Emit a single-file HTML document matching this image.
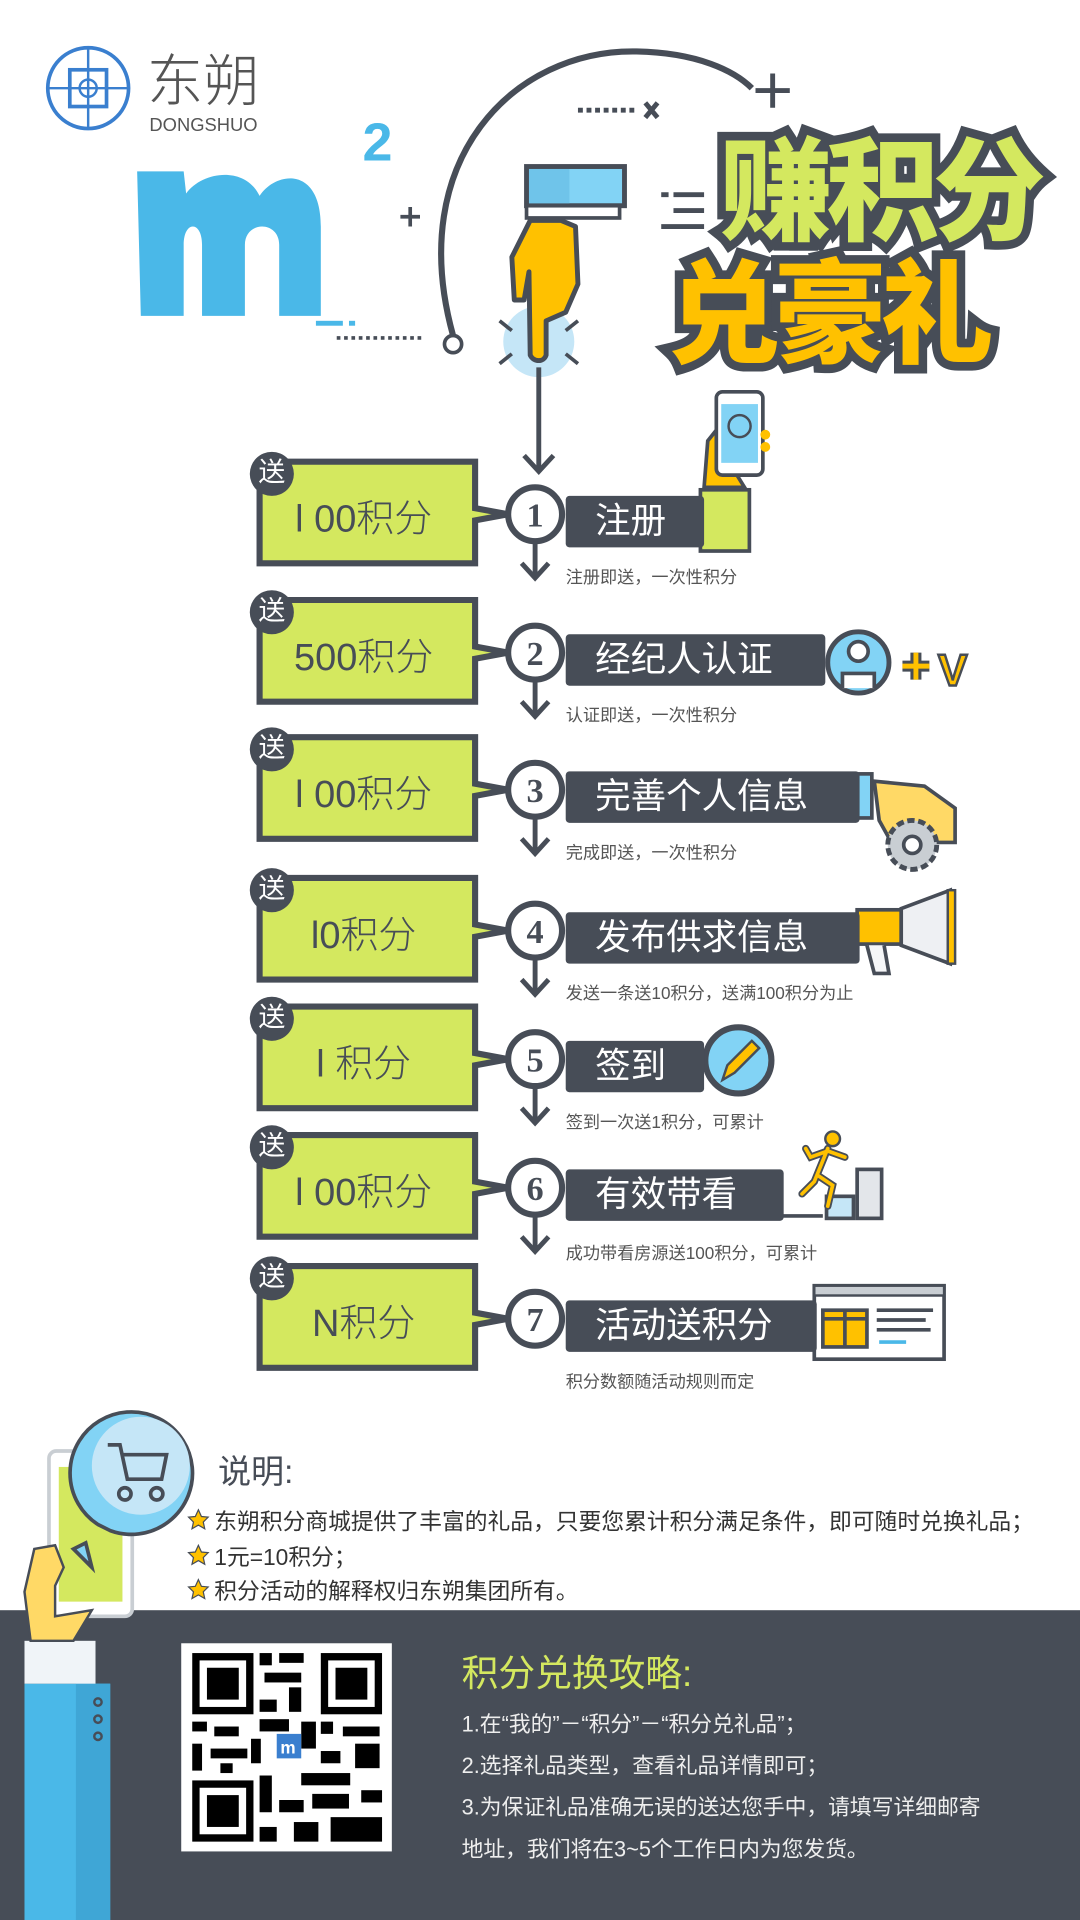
<!DOCTYPE html>
<html><head><meta charset="utf-8">
<style>
html,body{margin:0;padding:0;background:#fff;}
body{width:1080px;height:1920px;overflow:hidden;position:relative;font-family:"Liberation Sans","Noto Sans CJK SC",sans-serif;}
#w{position:absolute;left:0;top:0;width:882px;height:1568px;transform:scale(1.22449);transform-origin:0 0;}
.a{position:absolute;white-space:nowrap;}
.t1{font-family:"Noto Sans CJK SC",sans-serif;font-weight:900;font-size:92px;line-height:1;color:#d4e85f;-webkit-text-stroke:14px #474d57;paint-order:stroke fill;letter-spacing:-5px;}
.t2{color:#ffc100;}
.lab{position:absolute;background:#474d57;color:#fff;font-size:29px;height:42px;line-height:42px;padding-left:24px;box-sizing:border-box;border-radius:3px;font-family:"Liberation Sans","Noto Sans CJK SC",sans-serif;}
.sub{position:absolute;font-size:14px;color:#555;white-space:nowrap;}
.pts{position:absolute;font-size:31px;color:#474d57;font-weight:300;width:170px;text-align:center;}
.song{position:absolute;width:36px;height:36px;border-radius:50%;background:#474d57;color:#fff;font-size:22px;line-height:34px;text-align:center;}
.bl{position:absolute;font-size:18.6px;color:#333;white-space:nowrap;}
.gl{position:absolute;font-size:17.8px;color:#eee;white-space:nowrap;}
</style></head><body><div id="w">
<svg width="882" height="1568" style="position:absolute;left:0;top:0">
<circle cx="72" cy="72" r="33" fill="none" stroke="#3a7fcf" stroke-width="3"/>
<rect x="57" y="57" width="30" height="30" fill="none" stroke="#3a7fcf" stroke-width="3"/>
<circle cx="72" cy="72" r="7" fill="none" stroke="#3a7fcf" stroke-width="2"/>
<line x1="39" y1="72" x2="105" y2="72" stroke="#3a7fcf" stroke-width="2"/>
<line x1="72" y1="39" x2="72" y2="105" stroke="#3a7fcf" stroke-width="2"/>
<path d="M115 258 L112 140 L150 140 L152 158 C165 140 200 135 212 160 C225 140 262 135 262 185 L262 258 L228 258 L228 200 C228 180 200 180 200 200 L200 258 L165 258 L165 200 C165 180 150 180 150 200 L150 258 Z" fill="#4ab8e8"/>
<rect x="258" y="262" width="22" height="4" fill="#4ab8e8"/><rect x="285" y="262" width="5" height="4" fill="#4ab8e8"/>
<text x="296" y="131" font-family="Liberation Sans" font-weight="bold" font-size="44" fill="#4ab8e8">2</text>
<path d="M327 177h16M335 169v16" stroke="#474d57" stroke-width="3"/>
<line x1="275" y1="276" x2="345" y2="276" stroke="#474d57" stroke-width="3" stroke-dasharray="3 3"/>
<circle cx="370" cy="281" r="7" fill="none" stroke="#474d57" stroke-width="3"/>
<path d="M370 274 C 330 130 420 40 520 42 C 570 43 600 58 614 72" fill="none" stroke="#474d57" stroke-width="5"/>
<path d="M617 74h28M631 60v28" stroke="#474d57" stroke-width="4"/>
<line x1="472" y1="90" x2="518" y2="90" stroke="#474d57" stroke-width="4" stroke-dasharray="4 3"/>
<path d="M527 84l10 12M537 84l-10 12" stroke="#474d57" stroke-width="4"/>
<path d="M540 159h6M550 159h25M550 172h25M540 185h35" stroke="#474d57" stroke-width="4"/>
<circle cx="440" cy="279" r="29" fill="#c5e6f7"/>
<path d="M408 262l10 8M472 262l-10 8M408 297l10-8M472 297l-10-8" stroke="#474d57" stroke-width="3"/>
<rect x="430" y="136" width="80" height="32" fill="#82d3f5" stroke="#474d57" stroke-width="4"/>
<rect x="432" y="138" width="33" height="28" fill="#6fc4ea"/>
<rect x="430" y="168" width="76" height="10" fill="#fff" stroke="#474d57" stroke-width="3"/>
<path d="M433 180 L418 210 L420 245 L428 245 L432 222 L433 290 C436 296 444 296 446 290 L446 262 L462 255 L472 232 L470 185 L458 180 Z" fill="#ffc100" stroke="#474d57" stroke-width="4" stroke-linejoin="round"/>
<line x1="440" y1="300" x2="440" y2="385" stroke="#474d57" stroke-width="4"/>
<path d="M428 372l12 13 12-13" fill="none" stroke="#474d57" stroke-width="4"/>
</svg>

<div class="a t1" style="left:588px;top:104px;">赚积分</div>
<div class="a t1 t2" style="left:545px;top:204px;">兑豪礼</div>
<div class="a" style="left:120px;top:40px;font-size:46px;color:#555;font-family:'Noto Sans CJK SC',sans-serif;font-weight:300;line-height:1;">东朔</div>
<div class="a" style="left:122px;top:94px;font-size:15px;color:#555;">DONGSHUO</div>

<svg width="882" height="1568" style="position:absolute;left:0;top:0">
<defs>
<g id="row">
<path d="M212 -43 H388 V-5 L415 0 L388 5 V40 H212 Z" fill="#d4e85f" stroke="#474d57" stroke-width="5"/>
<circle cx="437" cy="0" r="22" fill="#fff" stroke="#474d57" stroke-width="5"/>
<line x1="437" y1="22" x2="437" y2="52" stroke="#474d57" stroke-width="4"/>
<path d="M426 40l11 12 11-12" fill="none" stroke="#474d57" stroke-width="4"/>
</g>
</defs>
<use href="#row" y="420"/><use href="#row" y="533"/><use href="#row" y="645"/><use href="#row" y="760"/><use href="#row" y="865"/><use href="#row" y="970"/>
<g transform="translate(0,1077)">
<path d="M212 -43 H388 V-5 L415 0 L388 5 V40 H212 Z" fill="#d4e85f" stroke="#474d57" stroke-width="5"/>
<circle cx="437" cy="0" r="22" fill="#fff" stroke="#474d57" stroke-width="5"/>
</g>
<g font-family="Liberation Serif" font-weight="bold" font-size="28" fill="#474d57" text-anchor="middle">
<text x="437" y="430">1</text><text x="437" y="543">2</text><text x="437" y="655">3</text><text x="437" y="770">4</text><text x="437" y="875">5</text><text x="437" y="980">6</text><text x="437" y="1087">7</text>
</g>
<rect x="572" y="400" width="40" height="50" fill="#d4e85f" stroke="#474d57" stroke-width="3"/>
<path d="M575 398 L578 360 L590 345 L600 385 L608 398 Z" fill="#ffc100" stroke="#474d57" stroke-width="3"/>
<rect x="585" y="320" width="38" height="68" rx="5" fill="#fff" stroke="#474d57" stroke-width="3"/>
<rect x="589" y="330" width="30" height="48" fill="#82d3f5"/>
<circle cx="604" cy="348" r="9" fill="none" stroke="#474d57" stroke-width="2"/>
<circle cx="625" cy="355" r="4" fill="#ffc100"/><circle cx="625" cy="365" r="4" fill="#ffc100"/>
<circle cx="701" cy="541" r="25" fill="#82d3f5" stroke="#474d57" stroke-width="4"/>
<circle cx="701" cy="532" r="8" fill="#fff" stroke="#474d57" stroke-width="3"/>
<path d="M688 562 V550 H714 V562" fill="#fff" stroke="#474d57" stroke-width="3"/>
<path d="M737 544h22M748 533v22" stroke="#474d57" stroke-width="9"/><path d="M737 544h22M748 533v22" stroke="#ffc100" stroke-width="4"/>
<text x="766" y="560" font-family="Liberation Sans" font-weight="bold" font-size="36" fill="#ffc100" stroke="#474d57" stroke-width="2">V</text>
<rect x="700" y="632" width="12" height="36" fill="#82d3f5" stroke="#474d57" stroke-width="3"/>
<path d="M714 638 L755 642 L780 660 L780 688 L728 688 L718 670 Z" fill="#ffd966" stroke="#474d57" stroke-width="3"/>
<circle cx="745" cy="690" r="20" fill="#c9ced3" stroke="#474d57" stroke-width="4" stroke-dasharray="6 3"/>
<circle cx="745" cy="690" r="7" fill="#fff" stroke="#474d57" stroke-width="3"/>
<rect x="700" y="743" width="36" height="28" fill="#ffc100" stroke="#474d57" stroke-width="3"/>
<path d="M736 742 L776 727 L776 787 L736 772 Z" fill="#eef0f3" stroke="#474d57" stroke-width="3"/>
<rect x="774" y="727" width="6" height="60" fill="#ffc100" stroke="#474d57" stroke-width="2"/>
<path d="M708 772 L714 795 L726 795 L722 772" fill="#f5f6f8" stroke="#474d57" stroke-width="3"/>
<circle cx="603" cy="866" r="27" fill="#82d3f5" stroke="#474d57" stroke-width="5"/>
<path d="M590 882 L594 870 L614 850 L620 856 L600 876 Z" fill="#ffc100" stroke="#474d57" stroke-width="2"/>
<path d="M632 993 H672" stroke="#474d57" stroke-width="3"/>
<rect x="675" y="977" width="22" height="18" fill="#c5e6f7" stroke="#474d57" stroke-width="3"/>
<rect x="700" y="955" width="20" height="40" fill="#e3e6ea" stroke="#474d57" stroke-width="3"/>
<circle cx="680" cy="930" r="6" fill="#ffc100" stroke="#474d57" stroke-width="2"/>
<path d="M676 938 L665 965 L655 975 M668 960 L680 968 L676 985 M676 940 L690 945 M676 940 L662 945 L658 938" fill="none" stroke="#474d57" stroke-width="6" stroke-linecap="round"/>
<path d="M676 938 L665 965 L655 975 M668 960 L680 968 L676 985 M676 940 L690 945 M676 940 L662 945 L658 938" fill="none" stroke="#ffc100" stroke-width="3" stroke-linecap="round"/>
<rect x="665" y="1050" width="106" height="60" fill="#fff" stroke="#474d57" stroke-width="3"/>
<rect x="665" y="1050" width="106" height="8" fill="#c9ced3" stroke="#474d57" stroke-width="2"/>
<rect x="672" y="1070" width="36" height="30" fill="#ffc100" stroke="#474d57" stroke-width="3"/>
<path d="M690 1070v30M672 1077h36" stroke="#474d57" stroke-width="3"/>
<path d="M716 1070h46M716 1078h40M716 1086h44" stroke="#474d57" stroke-width="3"/>
<path d="M718 1096h22" stroke="#4ab8e8" stroke-width="3"/>
</svg>

<div class="song" style="left:204px;top:369px">送</div><div class="pts" style="left:212px;top:398px">l 00积分</div>
<div class="song" style="left:204px;top:482px">送</div><div class="pts" style="left:212px;top:511px">500积分</div>
<div class="song" style="left:204px;top:594px">送</div><div class="pts" style="left:212px;top:623px">l 00积分</div>
<div class="song" style="left:204px;top:709px">送</div><div class="pts" style="left:212px;top:738px">l0积分</div>
<div class="song" style="left:204px;top:814px">送</div><div class="pts" style="left:212px;top:843px">l 积分</div>
<div class="song" style="left:204px;top:919px">送</div><div class="pts" style="left:212px;top:948px">l 00积分</div>
<div class="song" style="left:204px;top:1026px">送</div><div class="pts" style="left:212px;top:1055px">N积分</div>

<div class="lab" style="left:462px;top:405px;width:113px">注册</div>
<div class="lab" style="left:462px;top:518px;width:212px">经纪人认证</div>
<div class="lab" style="left:462px;top:630px;width:240px">完善个人信息</div>
<div class="lab" style="left:462px;top:745px;width:240px">发布供求信息</div>
<div class="lab" style="left:462px;top:850px;width:113px">签到</div>
<div class="lab" style="left:462px;top:955px;width:178px">有效带看</div>
<div class="lab" style="left:462px;top:1062px;width:205px">活动送积分</div>

<div class="sub" style="left:462px;top:461px">注册即送，一次性积分</div>
<div class="sub" style="left:462px;top:574px">认证即送，一次性积分</div>
<div class="sub" style="left:462px;top:686px">完成即送，一次性积分</div>
<div class="sub" style="left:462px;top:801px">发送一条送10积分，送满100积分为止</div>
<div class="sub" style="left:462px;top:906px">签到一次送1积分，可累计</div>
<div class="sub" style="left:462px;top:1013px">成功带看房源送100积分，可累计</div>
<div class="sub" style="left:462px;top:1118px">积分数额随活动规则而定</div>

<div class="a" style="left:0;top:1315px;width:882px;height:253px;background:#474d57"></div>
<svg width="882" height="1568" style="position:absolute;left:0;top:0">
<rect x="20" y="1375" width="70" height="193" fill="#4ab8e8"/>
<rect x="62" y="1375" width="28" height="193" fill="#3fa6d6"/>
<circle cx="80" cy="1390" r="3" fill="none" stroke="#474d57" stroke-width="2"/>
<circle cx="80" cy="1404" r="3" fill="none" stroke="#474d57" stroke-width="2"/>
<circle cx="80" cy="1418" r="3" fill="none" stroke="#474d57" stroke-width="2"/>
<rect x="20" y="1340" width="58" height="35" fill="#f0f4f8"/>
<rect x="40" y="1185" width="68" height="135" rx="6" fill="#fff" stroke="#c9ced3" stroke-width="3"/>
<rect x="48" y="1198" width="52" height="110" fill="#d4e85f"/>
<path d="M25 1340 L20 1300 L28 1265 L45 1262 L52 1280 L45 1295 L45 1320 L75 1315 L60 1340 Z" fill="#ffd966" stroke="#474d57" stroke-width="2"/>
<path d="M70 1260 L75 1280 L60 1265 Z M80 1245 A50 50 0 1 1 90 1250 Z" fill="#82d3f5" stroke="#474d57" stroke-width="3"/>
<circle cx="115" cy="1197" r="40" fill="#c5e6f7"/>
<path d="M88 1180 L98 1180 L104 1208 L132 1208 L136 1188 L100 1188" fill="none" stroke="#474d57" stroke-width="3"/>
<circle cx="102" cy="1220" r="5" fill="none" stroke="#474d57" stroke-width="3"/><circle cx="128" cy="1220" r="5" fill="none" stroke="#474d57" stroke-width="3"/>
<g fill="#ffc100" stroke="#474d57" stroke-width="1">
<path d="M162 1233l2.5 5.5 5.5.5-4 4 1.2 5.5-5.2-3-5.2 3 1.2-5.5-4-4 5.5-.5z"/>
<path d="M162 1262l2.5 5.5 5.5.5-4 4 1.2 5.5-5.2-3-5.2 3 1.2-5.5-4-4 5.5-.5z"/>
<path d="M162 1290l2.5 5.5 5.5.5-4 4 1.2 5.5-5.2-3-5.2 3 1.2-5.5-4-4 5.5-.5z"/>
</g>
<rect x="148" y="1342" width="172" height="170" fill="#fff"/>
<g fill="#000">
<rect x="157" y="1350" width="50" height="50"/><rect x="163" y="1356" width="38" height="38" fill="#fff"/><rect x="169" y="1362" width="26" height="26"/>
<rect x="262" y="1350" width="50" height="50"/><rect x="268" y="1356" width="38" height="38" fill="#fff"/><rect x="274" y="1362" width="26" height="26"/>
<rect x="157" y="1454" width="50" height="50"/><rect x="163" y="1460" width="38" height="38" fill="#fff"/><rect x="169" y="1466" width="26" height="26"/>
<rect x="212" y="1350" width="10" height="10"/><rect x="228" y="1350" width="20" height="8"/><rect x="216" y="1366" width="30" height="8"/><rect x="236" y="1378" width="10" height="20"/><rect x="212" y="1388" width="14" height="10"/>
<rect x="157" y="1406" width="12" height="8"/><rect x="175" y="1410" width="20" height="8"/><rect x="157" y="1424" width="8" height="22"/><rect x="172" y="1428" width="30" height="8"/><rect x="180" y="1440" width="10" height="8"/>
<rect x="212" y="1404" width="24" height="10"/><rect x="246" y="1406" width="12" height="22"/><rect x="262" y="1406" width="10" height="10"/><rect x="280" y="1410" width="30" height="8"/><rect x="290" y="1424" width="20" height="20"/>
<rect x="262" y="1430" width="16" height="10"/><rect x="246" y="1448" width="40" height="10"/><rect x="212" y="1450" width="10" height="30"/><rect x="228" y="1470" width="20" height="10"/><rect x="255" y="1465" width="30" height="12"/>
<rect x="295" y="1462" width="17" height="10"/><rect x="212" y="1492" width="14" height="12"/><rect x="240" y="1488" width="20" height="16"/><rect x="270" y="1484" width="42" height="20"/><rect x="205" y="1420" width="8" height="20"/>
</g>
<rect x="226" y="1416" width="20" height="20" fill="#3a7fcf"/>
<text x="229" y="1432" font-family="Liberation Sans" font-weight="bold" font-size="14" fill="#fff">m</text>
</svg>
<div class="a" style="left:178px;top:1180px;font-size:27px;color:#474d57;">说明:</div>
<div class="bl" style="left:175px;top:1228px">东朔积分商城提供了丰富的礼品，只要您累计积分满足条件，即可随时兑换礼品；</div>
<div class="bl" style="left:175px;top:1257px">1元=10积分；</div>
<div class="bl" style="left:175px;top:1285px">积分活动的解释权归东朔集团所有。</div>
<div class="a" style="left:377px;top:1342px;font-size:30px;color:#d4e85f;">积分兑换攻略:</div>
<div class="gl" style="left:377px;top:1394px">1.在“我的”－“积分”－“积分兑礼品”；</div>
<div class="gl" style="left:377px;top:1428px">2.选择礼品类型，查看礼品详情即可；</div>
<div class="gl" style="left:377px;top:1462px">3.为保证礼品准确无误的送达您手中，请填写详细邮寄</div>
<div class="gl" style="left:377px;top:1496px">地址，我们将在3~5个工作日内为您发货。</div>
</div></body></html>
